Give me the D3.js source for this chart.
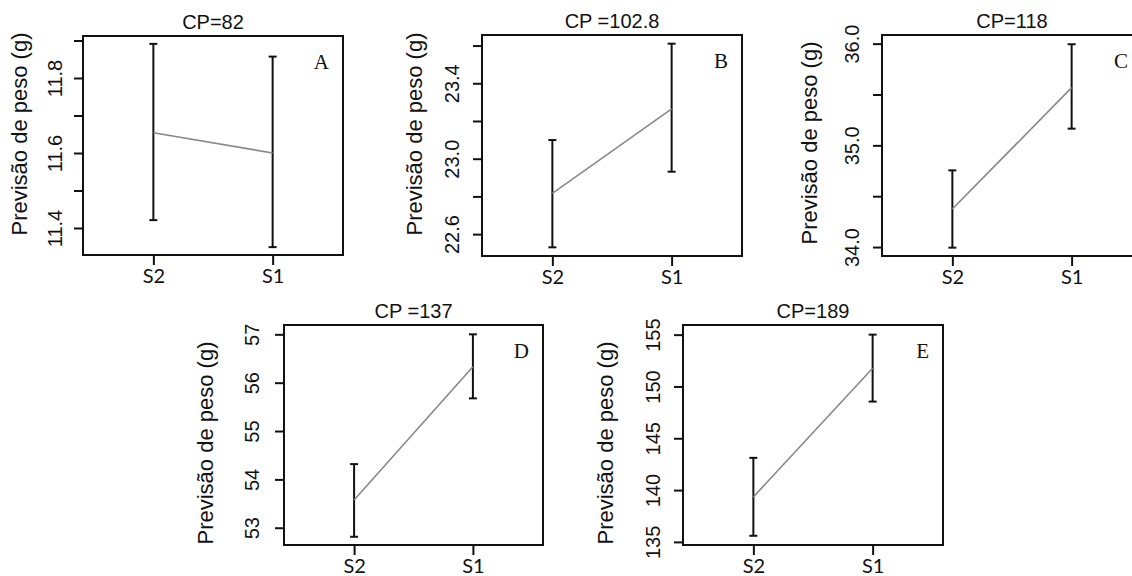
<!DOCTYPE html>
<html>
<head>
<meta charset="utf-8">
<script src="https://cdn.jsdelivr.net/npm/d3@7"></script>
<style>
  body { margin: 0; background: #fff; }
  svg { display: block; }
  .yaxis text, .ptitle, .ylab { font-family: "Liberation Sans", Arial, sans-serif; fill: #111; }
  .xaxis text { font-family: Lato, "Open Sans", sans-serif; fill: #111; }
  .letter { font-family: "Liberation Serif", "Times New Roman", serif; fill: #111; }
</style>
</head>
<body>
<div id="chart"></div>
<script>
// groups on the x axis of every panel
var groups = ["S2", "S1"];

var panelTitles  = ["CP=82", "CP =102.8", "CP=118", "CP =137", "CP=189"];
var panelLetters = ["A", "B", "C", "D", "E"];
var yLabel = "Previsão de peso (g)";

// predicted weight (mean) and interval limits, per panel, ordered S2, S1
var means = [
  [11.654, 11.600],
  [22.816, 23.264],
  [34.374, 35.567],
  [53.572, 56.331],
  [139.33, 151.76]
];
var lower = [
  [11.421, 11.349],
  [22.530, 22.931],
  [33.994, 35.164],
  [52.813, 55.676],
  [135.59, 148.54]
];
var upper = [
  [11.891, 11.857],
  [23.099, 23.610],
  [34.754, 35.994],
  [54.316, 57.000],
  [143.11, 155.00]
];

// y ranges shown in the boxes
var yDomains = [
  [11.328, 11.912],
  [22.484, 23.656],
  [33.912, 36.085],
  [52.643, 57.193],
  [134.70, 155.93]
];

// all tick marks, and which ones carry a label
var yTicks = [
  [11.4, 11.5, 11.6, 11.7, 11.8, 11.9],
  [22.6, 22.8, 23.0, 23.2, 23.4, 23.6],
  [34.0, 34.5, 35.0, 35.5, 36.0],
  [53, 54, 55, 56, 57],
  [135, 140, 145, 150, 155]
];
var yTickLabels = [
  ["11.4", "", "11.6", "", "11.8", ""],
  ["22.6", "", "23.0", "", "23.4", ""],
  ["34.0", "", "35.0", "", "36.0"],
  ["53", "54", "55", "56", "57"],
  ["135", "140", "145", "150", "155"]
];

// layout of the plot boxes (pixels)
var boxes = [
  {x: 83,  y: 36,  w: 260, h: 219, labX: 56, labY: 134, tickOff: 21},
  {x: 482, y: 35,  w: 260, h: 221, labX: 60, labY: 134, tickOff: 23},
  {x: 882, y: 35,  w: 260, h: 221, labX: 65, labY: 143, tickOff: 23},
  {x: 284, y: 325, w: 259, h: 220, labX: 71, labY: 443, tickOff: 25},
  {x: 683, y: 325, w: 260, h: 220, labX: 70, labY: 443, tickOff: 23}
];

var svg = d3.select("#chart").append("svg")
    .attr("width", 1132)
    .attr("height", 576);

svg.append("rect").attr("width", 1132).attr("height", 576).attr("fill", "#fff");

boxes.forEach(function(b, i) {
  var g = svg.append("g").attr("transform", "translate(" + b.x + "," + b.y + ")");

  var x = d3.scalePoint().domain(groups).range([0, b.w]).padding(0.59);
  var y = d3.scaleLinear().domain(yDomains[i]).range([b.h, 0]);

  var pts = groups.map(function(s, j) {
    return {grp: s, mean: means[i][j], lo: lower[i][j], hi: upper[i][j]};
  });

  // y axis, labels turned like R's default las=0
  var labels = yTickLabels[i];
  var ya = g.append("g")
      .attr("class", "yaxis")
      .call(d3.axisLeft(y)
        .tickValues(yTicks[i])
        .tickSize(9)
        .tickSizeOuter(0)
        .tickFormat(function(d, k) { return labels[k]; }));
  ya.select(".domain").remove();
  ya.selectAll("line").attr("stroke", "#111").attr("stroke-width", 2);
  ya.selectAll("text")
      .attr("x", null).attr("dy", null)
      .attr("text-anchor", "middle")
      .attr("transform", "translate(" + (-b.tickOff) + ",0) rotate(-90)")
      .style("font-size", "20px");

  // x axis
  var xa = g.append("g")
      .attr("class", "xaxis")
      .attr("transform", "translate(0," + b.h + ")")
      .call(d3.axisBottom(x).tickSize(10).tickSizeOuter(0));
  xa.select(".domain").remove();
  xa.selectAll("line").attr("stroke", "#111").attr("stroke-width", 2);
  xa.selectAll("text").style("font-size", "20px").attr("dy", "0.74em");

  // error bars
  var bars = g.selectAll(".bar").data(pts).enter().append("g").attr("class", "bar");
  bars.append("line")
      .attr("x1", function(d) { return x(d.grp); })
      .attr("x2", function(d) { return x(d.grp); })
      .attr("y1", function(d) { return y(d.lo); })
      .attr("y2", function(d) { return y(d.hi); });
  bars.append("line")
      .attr("x1", function(d) { return x(d.grp) - 4; })
      .attr("x2", function(d) { return x(d.grp) + 4; })
      .attr("y1", function(d) { return y(d.hi); })
      .attr("y2", function(d) { return y(d.hi); });
  bars.append("line")
      .attr("x1", function(d) { return x(d.grp) - 4; })
      .attr("x2", function(d) { return x(d.grp) + 4; })
      .attr("y1", function(d) { return y(d.lo); })
      .attr("y2", function(d) { return y(d.lo); });
  bars.selectAll("line").attr("stroke", "#111").attr("stroke-width", 2);

  // line joining the means
  g.append("path")
      .datum(pts)
      .attr("fill", "none")
      .attr("stroke", "#888")
      .attr("stroke-width", 1.6)
      .attr("d", d3.line()
        .x(function(d) { return x(d.grp); })
        .y(function(d) { return y(d.mean); }));

  // box
  g.append("rect")
      .attr("width", b.w).attr("height", b.h)
      .attr("fill", "none").attr("stroke", "#111").attr("stroke-width", 2);

  g.append("text")
      .attr("class", "ptitle")
      .attr("x", b.w / 2).attr("y", -7)
      .attr("text-anchor", "middle")
      .style("font-size", "20px")
      .text(panelTitles[i]);

  g.append("text")
      .attr("class", "letter")
      .attr("x", b.w - 14).attr("y", 33)
      .attr("text-anchor", "end")
      .style("font-size", "21px")
      .text(panelLetters[i]);

  g.append("text")
      .attr("class", "ylab")
      .attr("transform", "translate(" + (-b.labX) + "," + (b.labY - b.y) + ") rotate(-90)")
      .attr("text-anchor", "middle")
      .style("font-size", "22px")
      .text(yLabel);
});
</script>
</body>
</html>
